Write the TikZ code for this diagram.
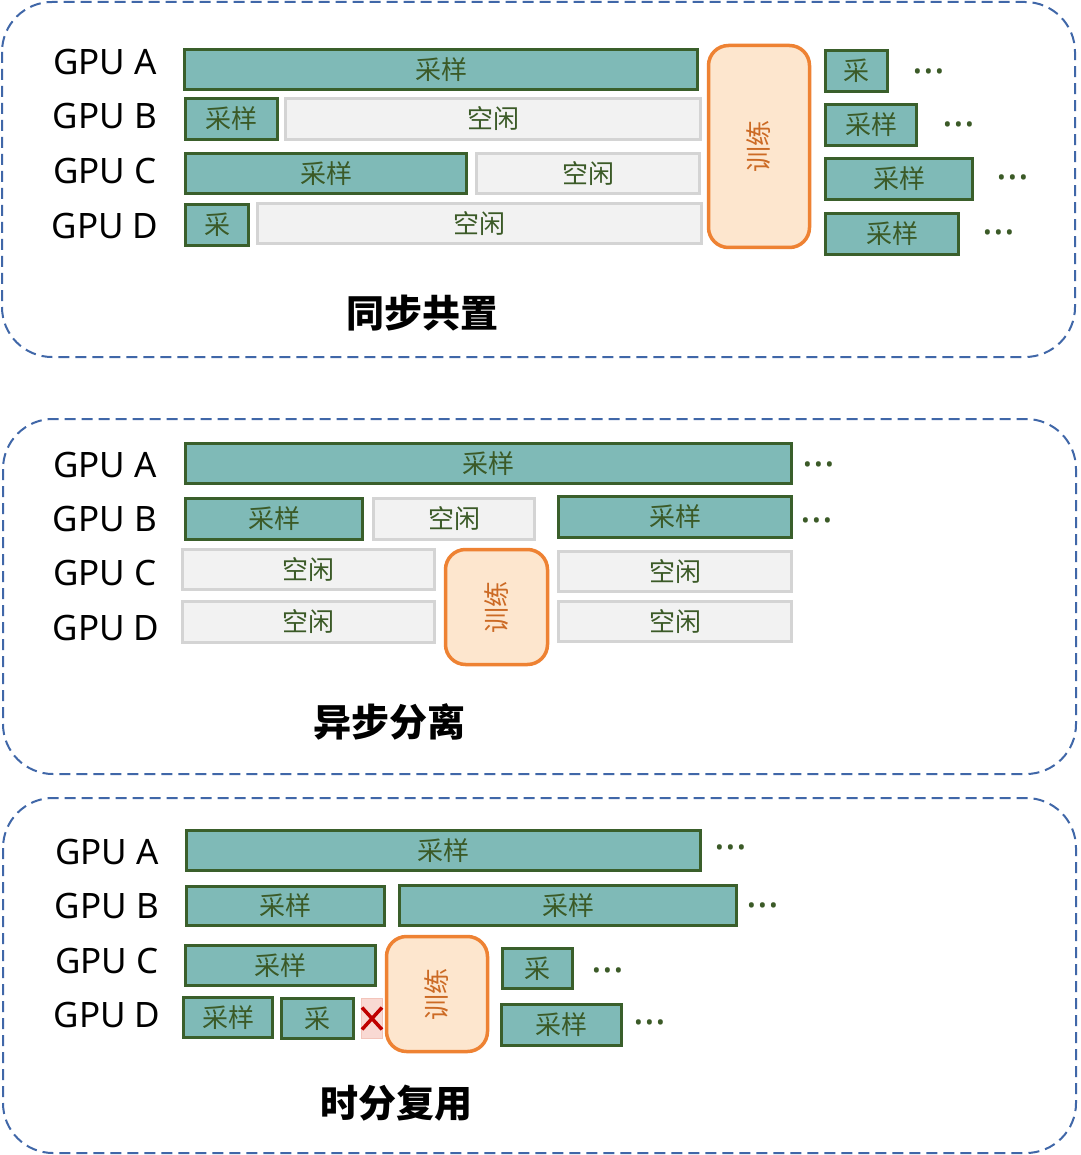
\documentclass[tikz,border=0pt]{standalone}
\usepackage{fontspec}
\setmainfont{Noto Sans CJK SC}
\newfontfamily\latinfont{Noto Sans}
\definecolor{barfill}{HTML}{7FBAB7}
\definecolor{bardraw}{HTML}{3A5F2B}
\definecolor{txtgreen}{HTML}{3B5A27}
\definecolor{idlefill}{HTML}{F2F2F2}
\definecolor{idledraw}{HTML}{D4D4D4}
\definecolor{trainfill}{HTML}{FDE6CE}
\definecolor{traindraw}{HTML}{EE8233}
\definecolor{traintxt}{HTML}{CC6A24}
\definecolor{panelblue}{HTML}{4067A8}
\definecolor{xfill}{HTML}{F9D9D3}
\definecolor{xdraw}{HTML}{F3C4BA}
\definecolor{xred}{HTML}{C00000}
\newcommand{\gbox}[7]{%
  \node[#1, minimum width={(#5-#3-3)*1pt}, minimum height={(#6-#4-3)*1pt}] (#2) at ({(#3+#5)/2},{(#4+#6)/2}) {#7};}
\tikzset{
  bar/.style={fill=barfill, draw=bardraw, line width=3pt, inner sep=0pt, text=txtgreen, font=\fontsize{26}{26}\selectfont},
  idle/.style={fill=idlefill, draw=idledraw, line width=3pt, inner sep=0pt, text=txtgreen, font=\fontsize{26}{26}\selectfont},
  train/.style={fill=trainfill, draw=traindraw, line width=3.5pt, rounded corners=20pt, inner sep=0pt, text=traintxt, font=\fontsize{26}{26}\selectfont},
  xbox/.style={fill=xfill, draw=xdraw, line width=1pt, inner sep=0pt},
  gpu/.style={inner sep=0pt, font=\latinfont\fontsize{35}{35}\selectfont},
  ttl/.style={inner sep=0pt, font=\fontsize{38}{38}\selectfont\bfseries},
  dots/.style={inner sep=0pt, text=txtgreen, yshift=-5pt, font=\latinfont\bfseries\fontsize{40}{40}\selectfont},
  panel/.style={draw=panelblue, line width=2pt, dash pattern=on 11pt off 6pt, rounded corners=50pt}
}
\begin{document}
\begin{tikzpicture}[x=1pt,y=-1pt]
\useasboundingbox (0,0) rectangle (1080,1155);
\fill[white] (0,0) rectangle (1080,1155);
% panels
\draw[panel] (2,2) rectangle (1075,357);
\draw[panel] (3,419) rectangle (1076,774);
\draw[panel] (3,798) rectangle (1076,1153);

% ---------- panel 1 ----------
\node[gpu] (p1la) at (105,62.5) {GPU A};
\node[gpu] (p1lb) at (105,115.8) {GPU B};
\node[gpu] (p1lc) at (105,170.8) {GPU C};
\node[gpu] (p1ld) at (105,225.8) {GPU D};
\gbox{bar}{p1A}{183}{48}{699}{91}{采样}
\gbox{bar}{p1B1}{184}{97}{279}{141}{采样}
\gbox{idle}{p1B2}{284}{97}{702}{141}{空闲}
\gbox{bar}{p1C1}{184}{152}{468}{195}{采样}
\gbox{idle}{p1C2}{475}{152}{701}{195}{空闲}
\gbox{bar}{p1D1}{184}{203}{250}{247}{采}
\gbox{idle}{p1D2}{256}{202}{703}{245}{空闲}
\gbox{train}{p1T}{707}{44}{811}{249}{\rotatebox{90}{训练}}
\gbox{bar}{p1R1}{824}{49}{889}{93}{采}
\gbox{bar}{p1R2}{824}{103}{918}{147}{采样}
\gbox{bar}{p1R3}{824}{157}{974}{201}{采样}
\gbox{bar}{p1R4}{824}{212}{960}{256}{采样}
\node[dots] (p1d1) at (929,72) {···};
\node[dots] (p1d2) at (959,125) {···};
\node[dots] (p1d3) at (1013,178) {···};
\node[dots] (p1d4) at (999,233) {···};
\node[ttl] (p1t) at (422,313) {同步共置};

% ---------- panel 2 ----------
\node[gpu] (p2la) at (105,465) {GPU A};
\node[gpu] (p2lb) at (105,518.7) {GPU B};
\node[gpu] (p2lc) at (105,572.5) {GPU C};
\node[gpu] (p2ld) at (106,627.5) {GPU D};
\gbox{bar}{p2A}{184}{442}{793}{485}{采样}
\gbox{bar}{p2B1}{184}{497}{364}{541}{采样}
\gbox{idle}{p2B2}{372}{497}{536}{541}{空闲}
\gbox{bar}{p2B3}{557}{495}{793}{539}{采样}
\gbox{idle}{p2C1}{181}{548}{436}{591}{空闲}
\gbox{idle}{p2C2}{557}{550}{793}{593}{空闲}
\gbox{idle}{p2D1}{181}{600}{436}{644}{空闲}
\gbox{idle}{p2D2}{557}{600}{793}{643}{空闲}
\gbox{train}{p2T}{444}{548}{549}{666}{\rotatebox{90}{训练}}
\node[dots] (p2d1) at (819,465) {···};
\node[dots] (p2d2) at (817,521) {···};
\node[ttl] (p2t) at (389,722) {异步分离};

% ---------- panel 3 ----------
\node[gpu] (p3la) at (107,852) {GPU A};
\node[gpu] (p3lb) at (107,905.8) {GPU B};
\node[gpu] (p3lc) at (107,960.5) {GPU C};
\node[gpu] (p3ld) at (107,1015) {GPU D};
\gbox{bar}{p3A}{185}{829}{702}{872}{采样}
\gbox{bar}{p3B1}{185}{885}{386}{927}{采样}
\gbox{bar}{p3B2}{398}{884}{738}{927}{采样}
\gbox{bar}{p3C1}{184}{944}{377}{987}{采样}
\gbox{bar}{p3C2}{501}{947}{574}{990}{采}
\gbox{bar}{p3D1}{182}{996}{274}{1039}{采样}
\gbox{bar}{p3D2}{280}{997}{355}{1040}{采}
\gbox{xbox}{p3X}{360}{997}{384}{1040}{}
\draw[xred, line width=3.5pt] ([shift={(1,-11)}]p3X.west) -- ([shift={(-1,11)}]p3X.east);
\draw[xred, line width=3.5pt] ([shift={(1,11)}]p3X.west) -- ([shift={(-1,-11)}]p3X.east);
\gbox{bar}{p3D3}{500}{1003}{623}{1047}{采样}
\gbox{train}{p3T}{385}{935}{489}{1053}{\rotatebox{90}{训练}}
\node[dots] (p3d1) at (731,848) {···};
\node[dots] (p3d2) at (763,906) {···};
\node[dots] (p3d3) at (608,971) {···};
\node[dots] (p3d4) at (650,1023) {···};
\node[ttl] (p3t) at (396,1103) {时分复用};
\end{tikzpicture}
\end{document}
